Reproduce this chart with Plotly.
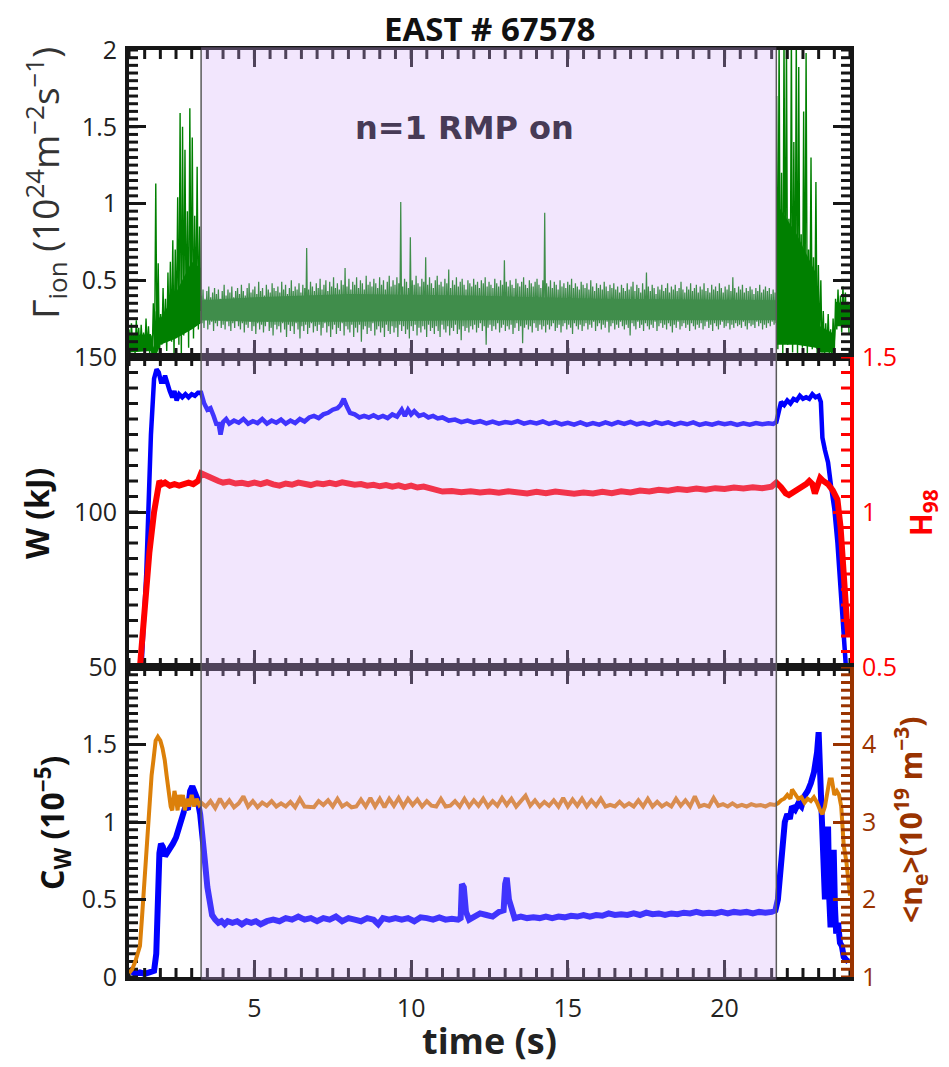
import numpy as np
import plotly.graph_objects as go

# ---------------- data ----------------
t_range = [1.0, 24.0]
rmp_on, rmp_off = 3.3, 21.65

# Gamma_ion (10^24 m^-2 s^-1): dense signal, stored as alternating peak / trough samples
gam_pre_t = [1.0, 3.29]
gam_pre_hi = [0.18, 0.22, 0.15, 0.24, 0.19, 0.21, 0.16, 0.25, 0.20, 0.14,
              0.35, 1.13, 0.61, 0.28, 0.45, 0.38, 0.55, 0.62, 0.76, 0.70,
              1.04, 1.59, 1.50, 1.35, 0.95, 1.62, 1.43, 0.92, 1.24, 0.85]
gam_pre_lo = [0.03, 0.06, 0.02, 0.08, 0.04, 0.07, 0.03, 0.05, 0.02, 0.00,
              0.01, 0.05, 0.00, 0.08, 0.12, 0.04, 0.15, 0.10, 0.02, 0.18,
              0.08, 0.00, 0.14, 0.20, 0.06, 0.22, 0.12, 0.25, 0.18, 0.30]

gam_rmp_t = [3.30, 21.64]
gam_rmp_hi = [
    0.40, 0.44, 0.38, 0.43, 0.46, 0.39, 0.42, 0.45, 0.41, 0.44, 0.38, 0.43, 0.47, 0.40, 0.44, 0.42, 0.46, 0.39, 0.43, 0.45,
    0.41, 0.47, 0.43, 0.40, 0.45, 0.48, 0.42, 0.44, 0.46, 0.41, 0.49, 0.43, 0.45, 0.40, 0.47, 0.44, 0.42, 0.48, 0.45, 0.43,
    0.46, 0.42, 0.49, 0.44, 0.47, 0.41, 0.45, 0.50, 0.43, 0.46, 0.44, 0.48, 0.42, 0.47, 0.45, 0.71, 0.44, 0.49, 0.46, 0.43,
    0.48, 0.45, 0.51, 0.44, 0.47, 0.50, 0.43, 0.49, 0.46, 0.52, 0.45, 0.48, 0.44, 0.50, 0.47, 0.58, 0.46, 0.51, 0.44, 0.49,
    0.47, 0.52, 0.45, 0.50, 0.48, 0.44, 0.53, 0.47, 0.49, 0.46, 0.51, 0.48, 0.45, 0.52, 0.47, 0.50, 0.44, 0.49, 0.53, 0.46,
    0.50, 0.47, 0.52, 0.48, 1.01, 0.46, 0.51, 0.49, 0.45, 0.78, 0.50, 0.47, 0.53, 0.48, 0.46, 0.51, 0.49, 0.65, 0.47, 0.52,
    0.48, 0.45, 0.50, 0.53, 0.47, 0.49, 0.46, 0.51, 0.48, 0.57, 0.45, 0.50, 0.47, 0.52, 0.46, 0.49, 0.51, 0.47, 0.44, 0.50,
    0.48, 0.46, 0.51, 0.47, 0.49, 0.45, 0.50, 0.48, 0.52, 0.46, 0.49, 0.47, 0.45, 0.51, 0.48, 0.46, 0.50, 0.47, 0.63, 0.49,
    0.46, 0.50, 0.47, 0.45, 0.51, 0.48, 0.46, 0.49, 0.52, 0.47, 0.45, 0.50, 0.48, 0.46, 0.49, 0.51, 0.47, 0.45, 0.50, 0.94,
    0.48, 0.46, 0.50, 0.45, 0.49, 0.47, 0.44, 0.50, 0.46, 0.48, 0.45, 0.49, 0.47, 0.51, 0.45, 0.48, 0.46, 0.44, 0.49, 0.47,
    0.45, 0.48, 0.44, 0.50, 0.46, 0.43, 0.48, 0.45, 0.47, 0.44, 0.49, 0.46, 0.43, 0.47, 0.45, 0.48, 0.44, 0.46, 0.42, 0.47,
    0.45, 0.43, 0.48, 0.44, 0.46, 0.49, 0.43, 0.47, 0.45, 0.42, 0.48, 0.44, 0.55, 0.46, 0.43, 0.47, 0.45, 0.41, 0.46, 0.44,
    0.47, 0.43, 0.45, 0.48, 0.42, 0.46, 0.44, 0.47, 0.43, 0.45, 0.49, 0.44, 0.42, 0.46, 0.44, 0.48, 0.43, 0.45, 0.47, 0.42,
    0.46, 0.44, 0.48, 0.43, 0.45, 0.42, 0.47, 0.44, 0.46, 0.43, 0.48, 0.45, 0.42, 0.46, 0.44, 0.47, 0.43, 0.52, 0.45, 0.42,
    0.46, 0.44, 0.47, 0.42, 0.45, 0.43, 0.46, 0.44, 0.41, 0.45, 0.43, 0.47, 0.42, 0.44, 0.46, 0.43, 0.45, 0.41, 0.44, 0.42]
gam_rmp_lo = [
    0.22, 0.19, 0.24, 0.18, 0.21, 0.23, 0.17, 0.22, 0.20, 0.24, 0.19, 0.21, 0.18, 0.23, 0.20, 0.17, 0.22, 0.19, 0.24, 0.20,
    0.18, 0.22, 0.16, 0.21, 0.19, 0.23, 0.17, 0.20, 0.15, 0.22, 0.18, 0.21, 0.16, 0.20, 0.23, 0.17, 0.19, 0.14, 0.21, 0.18,
    0.20, 0.16, 0.22, 0.18, 0.13, 0.21, 0.17, 0.20, 0.15, 0.22, 0.18, 0.12, 0.20, 0.17, 0.21, 0.15, 0.19, 0.22, 0.16, 0.20,
    0.17, 0.21, 0.14, 0.19, 0.22, 0.16, 0.20, 0.13, 0.18, 0.21, 0.15, 0.19, 0.17, 0.22, 0.14, 0.20, 0.18, 0.16, 0.21, 0.13,
    0.19, 0.16, 0.21, 0.10, 0.18, 0.20, 0.15, 0.19, 0.17, 0.22, 0.14, 0.18, 0.20, 0.16, 0.19, 0.13, 0.21, 0.17, 0.15, 0.20,
    0.16, 0.19, 0.13, 0.21, 0.17, 0.20, 0.15, 0.18, 0.12, 0.20, 0.17, 0.21, 0.14, 0.19, 0.16, 0.20, 0.18, 0.13, 0.21, 0.17,
    0.19, 0.15, 0.20, 0.17, 0.13, 0.21, 0.18, 0.16, 0.20, 0.14, 0.19, 0.17, 0.21, 0.15, 0.18, 0.11, 0.20, 0.17, 0.19, 0.16,
    0.20, 0.18, 0.21, 0.16, 0.19, 0.22, 0.17, 0.20, 0.08, 0.19, 0.21, 0.17, 0.20, 0.18, 0.22, 0.16, 0.19, 0.21, 0.17, 0.20,
    0.18, 0.21, 0.15, 0.19, 0.22, 0.17, 0.20, 0.09, 0.19, 0.21, 0.18, 0.20, 0.16, 0.22, 0.19, 0.17, 0.21, 0.18, 0.20, 0.16,
    0.21, 0.18, 0.20, 0.22, 0.17, 0.19, 0.21, 0.16, 0.20, 0.22, 0.18, 0.21, 0.19, 0.15, 0.22, 0.20, 0.18, 0.21, 0.17, 0.20,
    0.22, 0.18, 0.21, 0.19, 0.23, 0.17, 0.20, 0.22, 0.18, 0.21, 0.19, 0.23, 0.16, 0.20, 0.22, 0.18, 0.21, 0.19, 0.23, 0.20,
    0.18, 0.21, 0.19, 0.14, 0.22, 0.20, 0.18, 0.23, 0.19, 0.21, 0.17, 0.22, 0.20, 0.18, 0.21, 0.19, 0.23, 0.17, 0.20, 0.22,
    0.19, 0.21, 0.18, 0.22, 0.20, 0.16, 0.21, 0.19, 0.23, 0.18, 0.20, 0.22, 0.19, 0.21, 0.17, 0.22, 0.20, 0.18, 0.21, 0.19,
    0.22, 0.18, 0.20, 0.23, 0.19, 0.21, 0.17, 0.22, 0.20, 0.18, 0.21, 0.23, 0.19, 0.20, 0.22, 0.18, 0.21, 0.19, 0.22, 0.20,
    0.21, 0.19, 0.23, 0.20, 0.18, 0.22, 0.20, 0.21, 0.19, 0.23, 0.20, 0.22, 0.18, 0.21, 0.19, 0.22, 0.20, 0.23, 0.21, 0.22]

gam_post_t = [21.66, 23.97]
gam_post_hi = [1.70, 2.10, 1.20, 2.10, 2.10, 0.90, 2.10, 1.40, 2.10, 1.89,
               0.80, 1.60, 1.98, 0.70, 1.30, 0.65, 1.14, 0.60, 0.50, 0.30,
               0.22, 0.28, 0.18, 0.25, 0.38, 0.44, 0.40, 0.46, 0.42, 0.36]
gam_post_lo = [0.05, 0.12, 0.02, 0.20, 0.08, 0.15, 0.03, 0.10, 0.00, 0.18,
               0.06, 0.12, 0.02, 0.15, 0.05, 0.10, 0.02, 0.08, 0.03, 0.00,
               0.05, 0.02, 0.00, 0.04, 0.18, 0.22, 0.16, 0.24, 0.20, 0.15]

# solid core of the Gamma_ion band
core_pre_t = [1.0, 1.7, 1.78, 1.85, 2.0, 2.5, 3.0, 3.29]
core_pre_lo = [0.03, 0.04, 0.0, 0.0, 0.08, 0.12, 0.18, 0.22]
core_pre_hi = [0.14, 0.15, 0.06, 0.30, 0.25, 0.42, 0.62, 0.58]
core_rmp_t = [3.3, 5.0, 8.0, 12.0, 16.0, 21.65]
core_rmp_lo = [0.24, 0.23, 0.23, 0.24, 0.24, 0.24]
core_rmp_hi = [0.37, 0.39, 0.41, 0.40, 0.38, 0.37]
core_post_t = [21.66, 22.3, 22.9, 23.05, 23.5, 23.55, 24.0]
core_post_lo = [0.08, 0.08, 0.06, 0.03, 0.03, 0.20, 0.20]
core_post_hi = [1.00, 0.80, 0.55, 0.20, 0.15, 0.36, 0.34]

# W (kJ)
w_t = [1.40, 1.55, 1.70, 1.80, 1.88, 1.95, 2.02, 2.09, 2.15, 2.22, 2.30, 2.38, 2.45, 2.52, 2.6, 2.7,
       2.8, 2.9, 3.0, 3.1, 3.2, 3.3, 3.4, 3.5, 3.6, 3.7, 3.8, 3.85, 3.92, 4.0, 4.1, 4.2, 4.35,
       4.5, 4.65, 4.8, 4.95, 5.1, 5.25, 5.4, 5.55, 5.7, 5.85, 6.0, 6.15, 6.3, 6.45, 6.6, 6.75,
       6.9, 7.05, 7.2, 7.35, 7.5, 7.65, 7.75, 7.85, 7.95, 8.05, 8.2, 8.35, 8.5, 8.65, 8.8, 8.95,
       9.1, 9.25, 9.4, 9.55, 9.7, 9.8, 9.9, 10.0, 10.1, 10.25, 10.4, 10.55, 10.7, 10.85, 11.0,
       11.2, 11.4, 11.6, 11.8, 12.0, 12.2, 12.4, 12.6, 12.8, 13.0, 13.2, 13.4, 13.6, 13.8, 14.0,
       14.2, 14.4, 14.6, 14.8, 15.0, 15.2, 15.4, 15.6, 15.8, 16.0, 16.2, 16.4, 16.6, 16.8, 17.0,
       17.2, 17.4, 17.6, 17.8, 18.0, 18.2, 18.4, 18.6, 18.8, 19.0, 19.2, 19.4, 19.6, 19.8, 20.0,
       20.2, 20.4, 20.6, 20.8, 21.0, 21.2, 21.4, 21.55, 21.65, 21.72, 21.8, 21.9, 22.0, 22.1,
       22.2, 22.3, 22.4, 22.5, 22.6, 22.7, 22.8, 22.9, 23.0, 23.07, 23.12, 23.2, 23.3, 23.4,
       23.5, 23.6, 23.7, 23.8, 23.87]
w_kj = [50, 80, 125, 143, 146, 145, 142, 142, 144, 141, 139, 137, 139, 136, 138, 137,
        138, 137, 138, 137.5, 138.5, 138.5, 135, 133, 133.5, 131, 128, 129, 125, 129, 130, 128.5, 129.5,
        128.8, 130, 128.5, 129.3, 128.7, 130, 128.5, 129.5, 128.8, 129.8, 128.5, 129.5, 128.7, 130, 129.2, 130.5,
        131, 130.3, 131.5, 132, 133, 133.5, 134.5, 136.5, 134, 132, 131.5, 130.5, 131, 130.5, 131.2, 130.4,
        131, 130.3, 131.5, 130.8, 133, 131, 133, 131.5, 132.5, 131, 131.5, 130.5, 131, 130.2, 130.5,
        129.5, 129.8, 129, 129.5, 128.8, 129.3, 128.6, 129.2, 128.5, 129, 128.7, 129.3, 128.5, 129, 128.6,
        129.2, 128.4, 129, 128.3, 128.8, 128.2, 128.9, 128.1, 128.7, 128.2, 128.9, 128.3, 129, 128.4, 129.1,
        128.3, 128.8, 128.2, 129, 128.4, 128.9, 128.2, 128.8, 128.3, 128.9, 128.1, 128.6, 128.2, 128.8, 128.3,
        128.7, 128.1, 128.6, 128.2, 128.7, 128.3, 128.6, 128.4, 129, 133, 135.5, 134.5, 136, 135,
        136.5, 136, 137.5, 136.5, 137, 136.5, 138, 137, 137.5, 135.5, 124, 120, 116, 108,
        101, 90, 75, 59, 50]

# H98
h_t = [1.35, 1.5, 1.65, 1.8, 1.9, 1.97, 2.05, 2.15, 2.3, 2.45, 2.6, 2.75, 2.9, 3.05, 3.2, 3.3,
       3.4, 3.55, 3.7, 3.85, 4.0, 4.2, 4.4, 4.6, 4.8, 5.0, 5.2, 5.4, 5.6, 5.8, 6.0, 6.2, 6.4,
       6.6, 6.8, 7.0, 7.2, 7.4, 7.6, 7.8, 8.0, 8.2, 8.4, 8.6, 8.8, 9.0, 9.2, 9.4, 9.6, 9.8,
       10.0, 10.2, 10.4, 10.6, 10.8, 11.0, 11.3, 11.6, 11.9, 12.2, 12.5, 12.8, 13.1, 13.4,
       13.7, 14.0, 14.3, 14.6, 14.9, 15.2, 15.5, 15.8, 16.1, 16.4, 16.7, 17.0, 17.3, 17.6,
       17.9, 18.2, 18.5, 18.8, 19.1, 19.4, 19.7, 20.0, 20.3, 20.6, 20.9, 21.2, 21.5, 21.65,
       21.8, 21.95, 22.05, 22.2, 22.35, 22.5, 22.6, 22.7, 22.8, 22.88, 22.95, 23.05, 23.15,
       23.3, 23.45, 23.6, 23.7, 23.78, 23.85, 23.9, 23.95]
h98 = [0.5, 0.7, 0.87, 1.0, 1.08, 1.1, 1.09, 1.095, 1.085, 1.09, 1.085, 1.09, 1.095, 1.09, 1.10, 1.125,
       1.12, 1.11, 1.105, 1.10, 1.095, 1.098, 1.092, 1.094, 1.09, 1.095, 1.09, 1.096, 1.089, 1.085, 1.092, 1.088, 1.095,
       1.09, 1.087, 1.093, 1.09, 1.094, 1.09, 1.096, 1.092, 1.088, 1.09, 1.085, 1.088, 1.083, 1.087, 1.082, 1.086, 1.08,
       1.085, 1.079, 1.082, 1.075, 1.07, 1.066, 1.068, 1.064, 1.067, 1.063, 1.066, 1.062, 1.067, 1.064,
       1.06, 1.065, 1.061, 1.066, 1.062, 1.059, 1.063, 1.06, 1.065, 1.061, 1.067, 1.063, 1.069, 1.066,
       1.072, 1.069, 1.074, 1.071, 1.076, 1.072, 1.077, 1.074, 1.079, 1.076, 1.08, 1.077, 1.082, 1.095,
       1.08, 1.06, 1.055, 1.065, 1.07, 1.085, 1.09, 1.10, 1.09, 1.06, 1.085, 1.11, 1.10,
       1.09, 1.07, 1.04, 0.95, 0.80, 0.72, 0.65, 0.60]

# C_W (10^-5)
cw_t = [1.0, 1.1, 1.2, 1.35, 1.5, 1.65, 1.8, 1.87, 1.92, 1.97, 2.02, 2.08, 2.15, 2.22, 2.3, 2.4,
        2.5, 2.6, 2.7, 2.8, 2.88, 2.95, 3.02, 3.1, 3.18, 3.27, 3.35, 3.42, 3.5, 3.58, 3.65, 3.75,
        3.85, 3.95, 4.05, 4.15, 4.3, 4.45, 4.6, 4.75, 4.9, 5.05, 5.2, 5.4, 5.6, 5.8, 6.0, 6.2,
        6.4, 6.6, 6.8, 7.0, 7.2, 7.4, 7.6, 7.8, 8.0, 8.2, 8.4, 8.6, 8.8, 8.95, 9.1, 9.3, 9.5,
        9.7, 9.9, 10.1, 10.3, 10.5, 10.7, 10.9, 11.1, 11.3, 11.5, 11.58, 11.62, 11.68, 11.75,
        11.85, 12.0, 12.2, 12.4, 12.6, 12.8, 12.95, 13.0, 13.05, 13.12, 13.2, 13.3, 13.5, 13.7,
        13.9, 14.1, 14.3, 14.5, 14.7, 14.9, 15.1, 15.3, 15.5, 15.7, 15.9, 16.1, 16.3, 16.5, 16.7,
        16.9, 17.1, 17.3, 17.5, 17.7, 17.9, 18.1, 18.3, 18.5, 18.7, 18.9, 19.1, 19.3, 19.5, 19.7,
        19.9, 20.1, 20.3, 20.5, 20.7, 20.9, 21.1, 21.3, 21.5, 21.62, 21.7, 21.78, 21.85, 21.92,
        22.0, 22.08, 22.15, 22.25, 22.35, 22.45, 22.55, 22.65, 22.75, 22.85, 22.95, 23.0, 23.05,
        23.1, 23.15, 23.2, 23.25, 23.3, 23.34, 23.38, 23.43, 23.48, 23.52, 23.56, 23.62, 23.68,
        23.74, 23.8, 23.88, 23.95]
cw = [0.05, 0.03, 0.02, 0.03, 0.02, 0.03, 0.04, 0.15, 0.5, 0.8, 0.86, 0.84, 0.78, 0.8, 0.83, 0.86,
      0.9, 0.97, 1.05, 1.1, 1.08, 1.2, 1.23, 1.2, 1.15, 1.05, 0.92, 0.75, 0.58, 0.45, 0.4, 0.37,
      0.35, 0.36, 0.34, 0.36, 0.35, 0.36, 0.34, 0.36, 0.35, 0.36, 0.34, 0.36, 0.37, 0.36, 0.38, 0.37,
      0.39, 0.37, 0.38, 0.36, 0.38, 0.37, 0.39, 0.36, 0.38, 0.37, 0.36, 0.38, 0.37, 0.34, 0.38, 0.37, 0.38,
      0.37, 0.38, 0.36, 0.385, 0.38, 0.37, 0.385, 0.37, 0.375, 0.37, 0.38, 0.60, 0.58, 0.42,
      0.37, 0.39, 0.41, 0.40, 0.39, 0.42, 0.43, 0.60, 0.64, 0.50, 0.44, 0.38, 0.39, 0.38,
      0.385, 0.38, 0.39, 0.38, 0.39, 0.385, 0.395, 0.39, 0.40, 0.39, 0.40, 0.395, 0.41, 0.40, 0.405,
      0.40, 0.41, 0.40, 0.415, 0.405, 0.41, 0.40, 0.41, 0.405, 0.415, 0.41, 0.42, 0.41, 0.415, 0.41,
      0.42, 0.41, 0.42, 0.415, 0.42, 0.41, 0.42, 0.415, 0.42, 0.43, 0.50, 0.72, 0.88, 1.0,
      1.05, 1.02, 1.1, 1.08, 1.12, 1.1, 1.17, 1.2, 1.25, 1.32, 1.45, 1.58, 1.3,
      1.0, 0.6, 0.5, 0.75, 0.97, 0.5, 0.32, 0.6, 0.82, 0.45, 0.28, 0.35, 0.22,
      0.2, 0.13, 0.11, 0.10]

# <n_e> (10^19 m^-3)
ne_t = [1.0, 1.1, 1.2, 1.3, 1.35, 1.42, 1.5, 1.58, 1.65, 1.72, 1.78, 1.85, 1.92, 2.0, 2.07, 2.14,
        2.2, 2.27, 2.33, 2.38, 2.45, 2.5, 2.55, 2.6, 2.66, 2.72, 2.78, 2.85, 2.92, 3.0, 3.08, 3.16,
        3.24, 3.3, 3.45, 3.6, 3.75, 3.9, 4.05, 4.2, 4.35, 4.5, 4.65, 4.8, 4.95, 5.1, 5.25, 5.4,
        5.55, 5.7, 5.85, 6.0, 6.15, 6.3, 6.45, 6.6, 6.75, 6.9, 7.05, 7.2, 7.35, 7.5, 7.65, 7.8,
        7.95, 8.1, 8.25, 8.4, 8.55, 8.7, 8.85, 9.0, 9.15, 9.3, 9.45, 9.6, 9.75, 9.9, 10.05, 10.2,
        10.35, 10.5, 10.65, 10.8, 10.95, 11.1, 11.25, 11.4, 11.55, 11.7, 11.85, 12.0, 12.15, 12.3,
        12.45, 12.6, 12.75, 12.9, 13.05, 13.2, 13.35, 13.5, 13.65, 13.8, 13.95, 14.1, 14.25, 14.4,
        14.55, 14.7, 14.85, 15.0, 15.15, 15.3, 15.45, 15.6, 15.75, 15.9, 16.05, 16.2, 16.35, 16.5,
        16.65, 16.8, 16.95, 17.1, 17.25, 17.4, 17.55, 17.7, 17.85, 18.0, 18.15, 18.3, 18.45, 18.6,
        18.75, 18.9, 19.05, 19.2, 19.35, 19.5, 19.65, 19.8, 19.95, 20.1, 20.25, 20.4, 20.55, 20.7,
        20.85, 21.0, 21.15, 21.3, 21.45, 21.6, 21.7, 21.8, 21.9, 22.0, 22.1, 22.15, 22.25, 22.35,
        22.45, 22.55, 22.65, 22.75, 22.85, 22.95, 23.05, 23.12, 23.2, 23.28, 23.35, 23.42, 23.5,
        23.58, 23.65, 23.72, 23.8, 23.88, 23.95, 24.0]
ne = [1.05, 1.1, 1.2, 1.35, 1.4, 1.8, 2.3, 2.8, 3.2, 3.6, 3.8, 4.05, 4.1, 4.05, 3.95, 3.8,
      3.6, 3.4, 3.2, 3.15, 3.4, 3.3, 3.15, 3.35, 3.2, 3.35, 3.15, 3.3, 3.2, 3.35, 3.2, 3.3,
      3.22, 3.25, 3.2, 3.27, 3.18, 3.3, 3.2, 3.28, 3.19, 3.24, 3.33, 3.2, 3.27, 3.19, 3.25, 3.21,
      3.27, 3.2, 3.24, 3.2, 3.26, 3.19, 3.3, 3.2, 3.2, 3.19, 3.27, 3.22, 3.28, 3.2, 3.3, 3.2,
      3.24, 3.19, 3.2, 3.29, 3.2, 3.31, 3.2, 3.3, 3.19, 3.3, 3.21, 3.31, 3.2, 3.3, 3.22, 3.29,
      3.2, 3.27, 3.21, 3.2, 3.3, 3.2, 3.21, 3.27, 3.2, 3.3, 3.2, 3.28, 3.21, 3.3,
      3.2, 3.27, 3.21, 3.31, 3.22, 3.3, 3.2, 3.27, 3.34, 3.21, 3.28, 3.2, 3.26, 3.21,
      3.28, 3.2, 3.31, 3.2, 3.29, 3.21, 3.3, 3.2, 3.28, 3.21, 3.3, 3.2, 3.22, 3.2,
      3.26, 3.2, 3.24, 3.2, 3.28, 3.2, 3.3, 3.2, 3.26, 3.2, 3.24, 3.2, 3.3, 3.21,
      3.28, 3.2, 3.33, 3.2, 3.22, 3.2, 3.31, 3.21, 3.23, 3.2, 3.24, 3.2, 3.22, 3.2,
      3.23, 3.21, 3.22, 3.2, 3.23, 3.22, 3.24, 3.28, 3.3, 3.35, 3.3, 3.42, 3.35, 3.3,
      3.32, 3.25, 3.3, 3.27, 3.32, 3.25, 3.15, 3.1, 3.2, 3.4, 3.55, 3.55, 3.35,
      3.4, 3.35, 3.2, 2.7, 2.5, 2.2, 2.05]

# axis ranges
gam_range = [0, 2]
w_range = [50, 150]
h_range = [0.5, 1.5]
cw_range = [0, 2]
ne_range = [1, 5]

# ---------------- styling ----------------
FONT = "Open Sans"
INK = "#161616"
GREEN = "rgb(0,128,0)"
BLUE = "rgb(0,0,255)"
RED = "rgb(255,0,0)"
ORANGE = "rgb(220,128,10)"
BROWN = "rgb(153,51,0)"

PLOT_W = 721.0                      # plot-area width in px
PANEL_H = [307.0, 310.0, 310.0]     # panel heights in px (top, middle, bottom)
MINOR_LEN = 9.0                     # minor tick length in px


def interleave(hi, lo):
    out = []
    for a, b in zip(hi, lo):
        out.extend([a, b])
    return out


def sample_times(span, n):
    return np.linspace(span[0], span[1], n)


fig = go.Figure()

# Gamma_ion core bands + dense signal (top panel)
for ct, clo, chi in [(core_pre_t, core_pre_lo, core_pre_hi),
                     (core_rmp_t, core_rmp_lo, core_rmp_hi),
                     (core_post_t, core_post_lo, core_post_hi)]:
    fig.add_trace(go.Scatter(x=ct, y=clo, mode="lines", line=dict(width=0, color=GREEN),
                             xaxis="x", yaxis="y", showlegend=False, hoverinfo="skip"))
    fig.add_trace(go.Scatter(x=ct, y=chi, mode="lines", line=dict(width=0, color=GREEN),
                             fill="tonexty", fillcolor=GREEN,
                             xaxis="x", yaxis="y", showlegend=False, hoverinfo="skip"))

for span, hi, lo, lw in [(gam_pre_t, gam_pre_hi, gam_pre_lo, 1.4),
                         (gam_rmp_t, gam_rmp_hi, gam_rmp_lo, 1.25),
                         (gam_post_t, gam_post_hi, gam_post_lo, 1.4)]:
    vals = interleave(hi, lo)
    fig.add_trace(go.Scatter(x=sample_times(span, len(vals)), y=vals, mode="lines",
                             line=dict(width=lw, color=GREEN),
                             xaxis="x", yaxis="y", showlegend=False))

# middle panel
fig.add_trace(go.Scatter(x=w_t, y=w_kj, mode="lines", line=dict(width=4.5, color=BLUE),
                         xaxis="x2", yaxis="y2", showlegend=False))
fig.add_trace(go.Scatter(x=h_t, y=h98, mode="lines", line=dict(width=6, color=RED),
                         xaxis="x2", yaxis="y3", showlegend=False))

# bottom panel
fig.add_trace(go.Scatter(x=cw_t, y=cw, mode="lines", line=dict(width=6, color=BLUE),
                         xaxis="x3", yaxis="y4", showlegend=False))
fig.add_trace(go.Scatter(x=ne_t, y=ne, mode="lines", line=dict(width=4, color=ORANGE),
                         xaxis="x3", yaxis="y5", showlegend=False))


# ---- minor ticks: short tick strokes placed through each axis' own scale ----
def minor_vals(rng, step):
    return [float(v) for v in np.arange(rng[0], rng[1] + step / 2, step)]


def x_minor_ticks(xa, ya, yrng, panel_h, step=0.5):
    dy = (yrng[1] - yrng[0]) * MINOR_LEN / panel_h
    xs, ys = [], []
    for t in minor_vals(t_range, step):
        xs += [t, t, None, t, t, None]
        ys += [yrng[0], yrng[0] + dy, None, yrng[1], yrng[1] - dy, None]
    return go.Scatter(x=xs, y=ys, xaxis=xa, yaxis=ya, mode="lines",
                      line=dict(color=INK, width=3), showlegend=False, hoverinfo="skip")


def y_minor_ticks(xa, ya, yrng, step, sides, color):
    dx = (t_range[1] - t_range[0]) * MINOR_LEN / PLOT_W
    xs, ys = [], []
    for v in minor_vals(yrng, step):
        if "left" in sides:
            xs += [t_range[0], t_range[0] + dx, None]
            ys += [v, v, None]
        if "right" in sides:
            xs += [t_range[1], t_range[1] - dx, None]
            ys += [v, v, None]
    return go.Scatter(x=xs, y=ys, xaxis=xa, yaxis=ya, mode="lines",
                      line=dict(color=color, width=3), showlegend=False, hoverinfo="skip")


fig.add_trace(x_minor_ticks("x", "y", gam_range, PANEL_H[0]))
fig.add_trace(x_minor_ticks("x2", "y2", w_range, PANEL_H[1]))
fig.add_trace(x_minor_ticks("x3", "y4", cw_range, PANEL_H[2]))
fig.add_trace(y_minor_ticks("x", "y", gam_range, 0.05, ("left", "right"), INK))
fig.add_trace(y_minor_ticks("x2", "y2", w_range, 5, ("left",), INK))
fig.add_trace(y_minor_ticks("x2", "y3", h_range, 0.05, ("right",), RED))
fig.add_trace(y_minor_ticks("x3", "y4", cw_range, 0.05, ("left",), INK))
fig.add_trace(y_minor_ticks("x3", "y5", ne_range, 0.1, ("right",), BROWN))

# domains (paper fractions of the 927 px tall plot area)
d_top = [0.6688, 1.0]
d_mid = [0.3344, 0.6688]
d_bot = [0.0, 0.3344]


def xax(anchor, labels):
    return dict(domain=[0, 1], anchor=anchor, range=t_range, showline=True, linewidth=4,
                linecolor=INK, mirror="ticks", ticks="inside", tickmode="linear",
                tick0=0, dtick=5, ticklen=17, tickwidth=3, tickcolor=INK,
                showgrid=False, zeroline=False, ticklabelstandoff=6,
                showticklabels=labels, tickfont=dict(family=FONT, size=25, color="#222"))


def yax(domain, anchor, rng, dt, hide=None, color=INK, side="left", mirror=False,
        overlaying=None):
    d = dict(domain=domain, anchor=anchor, range=rng, side=side, showline=True, linewidth=4,
             linecolor=color, mirror=mirror, ticks="inside", tickmode="linear",
             tick0=rng[0], dtick=dt, ticklen=17, tickwidth=3, tickcolor=color,
             showgrid=False, zeroline=False, ticklabelstandoff=3,
             tickfont=dict(family=FONT, size=25, color=color if color != INK else "#222"))
    if hide:
        d["labelalias"] = {h: " " for h in hide}
    if overlaying:
        d["overlaying"] = overlaying
    return d


fig.update_layout(
    width=949, height=1067,
    margin=dict(l=129, r=99, t=50, b=90),
    paper_bgcolor="white", plot_bgcolor="white",
    font=dict(family=FONT, color="#222"),
    xaxis=xax("y", False),
    xaxis2=xax("y2", False),
    xaxis3=xax("y4", True),
    yaxis=yax(d_top, "x", gam_range, 0.5, hide=["0"], mirror="ticks"),
    yaxis2=yax(d_mid, "x2", w_range, 50),
    yaxis3=yax(d_mid, "x2", h_range, 0.5, color=RED, side="right", overlaying="y2"),
    yaxis4=yax(d_bot, "x3", cw_range, 0.5, hide=["2"]),
    yaxis5=yax(d_bot, "x3", ne_range, 1, hide=["5"], color=BROWN, side="right",
               overlaying="y4"),
)

# RMP-on shading (drawn over everything, like a translucent overlay) and boundary lines
fig.add_shape(type="rect", xref="x3", yref="paper", x0=rmp_on, x1=rmp_off, y0=-0.003, y1=1.003,
              fillcolor="rgba(213,172,248,0.30)", line=dict(width=0), layer="above")
for xv in (rmp_on, rmp_off):
    fig.add_shape(type="line", xref="x3", yref="paper", x0=xv, x1=xv, y0=0, y1=1,
                  line=dict(color="#5a5a5a", width=1.5), layer="above")

ann = dict(showarrow=False, xref="paper", yref="paper")
fig.add_annotation(text="<b>EAST # 67578</b>", x=0.5, y=1.0237, yanchor="middle",
                   font=dict(family=FONT, size=33, color="#111"), **ann)
fig.add_annotation(text="<b>n=1 RMP on</b>", x=0.466, y=0.9159, yanchor="middle",
                   font=dict(family="DejaVu Sans", size=32, color="#473a56"), **ann)
fig.add_annotation(text="<b>time (s)</b>", x=0.5, y=-0.0685, yanchor="middle",
                   font=dict(family=FONT, size=36, color="#222"), **ann)
fig.add_annotation(text="Γ<sub>ion</sub> (10<sup>24</sup>m<sup>−2</sup>s<sup>−1</sup>)",
                   x=-0.117, y=0.8565, textangle=-90, xanchor="center", yanchor="middle",
                   font=dict(family=FONT, size=37, color="#333"), **ann)
fig.add_annotation(text="<b>W (kJ)</b>", x=-0.129, y=0.5005, textangle=-90,
                   xanchor="center", yanchor="middle",
                   font=dict(family=FONT, size=32, color="#111"), **ann)
fig.add_annotation(text="<b>C<sub>W</sub> (10<sup>−5</sup>)</b>", x=-0.107, y=0.166,
                   textangle=-90, xanchor="center", yanchor="middle",
                   font=dict(family=FONT, size=32, color="#111"), **ann)
fig.add_annotation(text="<b>H<sub>98</sub></b>", x=1.1, y=0.5005, textangle=-90,
                   xanchor="center", yanchor="middle",
                   font=dict(family=FONT, size=30, color=RED), **ann)
fig.add_annotation(text="<b>&lt;n<sub>e</sub>&gt;(10<sup>19</sup> m<sup>−3</sup>)</b>",
                   x=1.084, y=0.169, textangle=-90, xanchor="center", yanchor="middle",
                   font=dict(family=FONT, size=30, color=BROWN), **ann)

fig.write_html("out.html")
